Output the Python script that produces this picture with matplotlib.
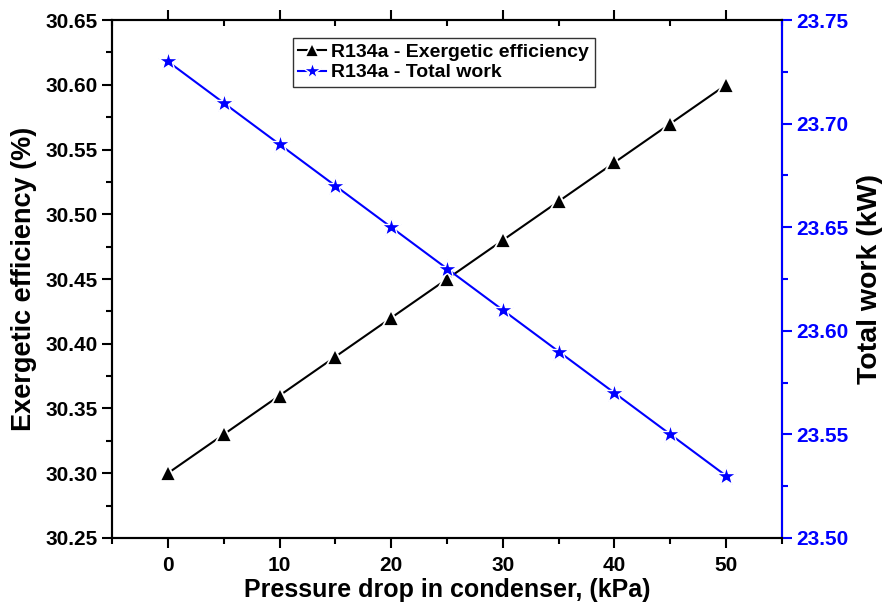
import numpy as np
import matplotlib.pyplot as plt
from matplotlib.ticker import MultipleLocator

plt.rcParams['font.family'] = ['Liberation Sans', 'DejaVu Sans']
plt.rcParams['font.weight'] = 'bold'

# Daten
pressure_drop = [0, 5, 10, 15, 20, 25, 30, 35, 40, 45, 50]
exergetic_eff = [30.30, 30.33, 30.36, 30.39, 30.42, 30.45, 30.48, 30.51, 30.54, 30.57, 30.60]
total_work = [23.73, 23.71, 23.69, 23.67, 23.65, 23.63, 23.61, 23.59, 23.57, 23.55, 23.53]

fig = plt.figure(figsize=(8.85, 6.07), dpi=100)
ax = fig.add_axes([0.1266, 0.1137, 0.757, 0.8533])
ax2 = ax.twinx()

l1, = ax.plot(pressure_drop, exergetic_eff, '-^', color='black', lw=1.5, ms=11,
              mec='white', mew=1.3, mfc='black', label='R134a - Exergetic efficiency')
l2, = ax2.plot(pressure_drop, total_work, '-*', color='blue', lw=1.5, ms=15,
               mec='white', mew=1.0, mfc='blue', label='R134a - Total work')

ax.set_xlim(-5, 55)
ax.set_ylim(30.25, 30.65)
ax2.set_ylim(23.50, 23.75)

ax.xaxis.set_major_locator(MultipleLocator(10))
ax.xaxis.set_minor_locator(MultipleLocator(5))
ax.yaxis.set_major_locator(MultipleLocator(0.05))
ax.yaxis.set_minor_locator(MultipleLocator(0.025))
ax2.yaxis.set_major_locator(MultipleLocator(0.05))
ax2.yaxis.set_minor_locator(MultipleLocator(0.025))
ax.yaxis.set_major_formatter(plt.FormatStrFormatter('%.2f'))
ax2.yaxis.set_major_formatter(plt.FormatStrFormatter('%.2f'))

ax.tick_params(axis='both', which='major', direction='out', length=7, width=1.5,
               labelsize=15, top=True)
ax.tick_params(axis='both', which='minor', direction='out', length=4, width=1.5, top=True)
# obere Ticks nach innen
for t in ax.xaxis.get_major_ticks() + ax.xaxis.get_minor_ticks():
    t.tick2line.set_marker(3)  # TICKDOWN
ax.tick_params(axis='x', which='major', pad=6)

ax2.tick_params(axis='y', which='major', direction='out', length=7, width=1.5,
                labelsize=15, colors='blue')
ax2.tick_params(axis='y', which='minor', direction='out', length=4, width=1.5, colors='blue')

for sp in ax.spines.values():
    sp.set_linewidth(1.5)
for sp in ax2.spines.values():
    sp.set_linewidth(1.5)
ax2.spines['right'].set_color('blue')

for lab in ax.get_xticklabels() + ax.get_yticklabels() + ax2.get_yticklabels():
    lab.set_fontweight('bold')

ax.set_xlabel('Pressure drop in condenser, (kPa)', fontsize=18, fontweight='bold', labelpad=2)
ax.set_ylabel('Exergetic efficiency (%)', fontsize=19.5, fontweight='bold', labelpad=6)
ax2.set_ylabel('Total work (kW)', fontsize=20.5, fontweight='bold', labelpad=6)

leg = ax.legend(handles=[l1, l2], loc='upper left', bbox_to_anchor=(0.255, 0.985),
                frameon=True, fancybox=False, edgecolor='black',
                handlelength=1.4, handletextpad=0.3, borderpad=0.3, labelspacing=0.15,
                prop={'weight': 'bold', 'size': 14})
leg.get_frame().set_linewidth(1.0)
leg.legend_handles[0].set_markersize(10)
leg.legend_handles[1].set_markersize(13)

fig.savefig('out.png', dpi=100)
